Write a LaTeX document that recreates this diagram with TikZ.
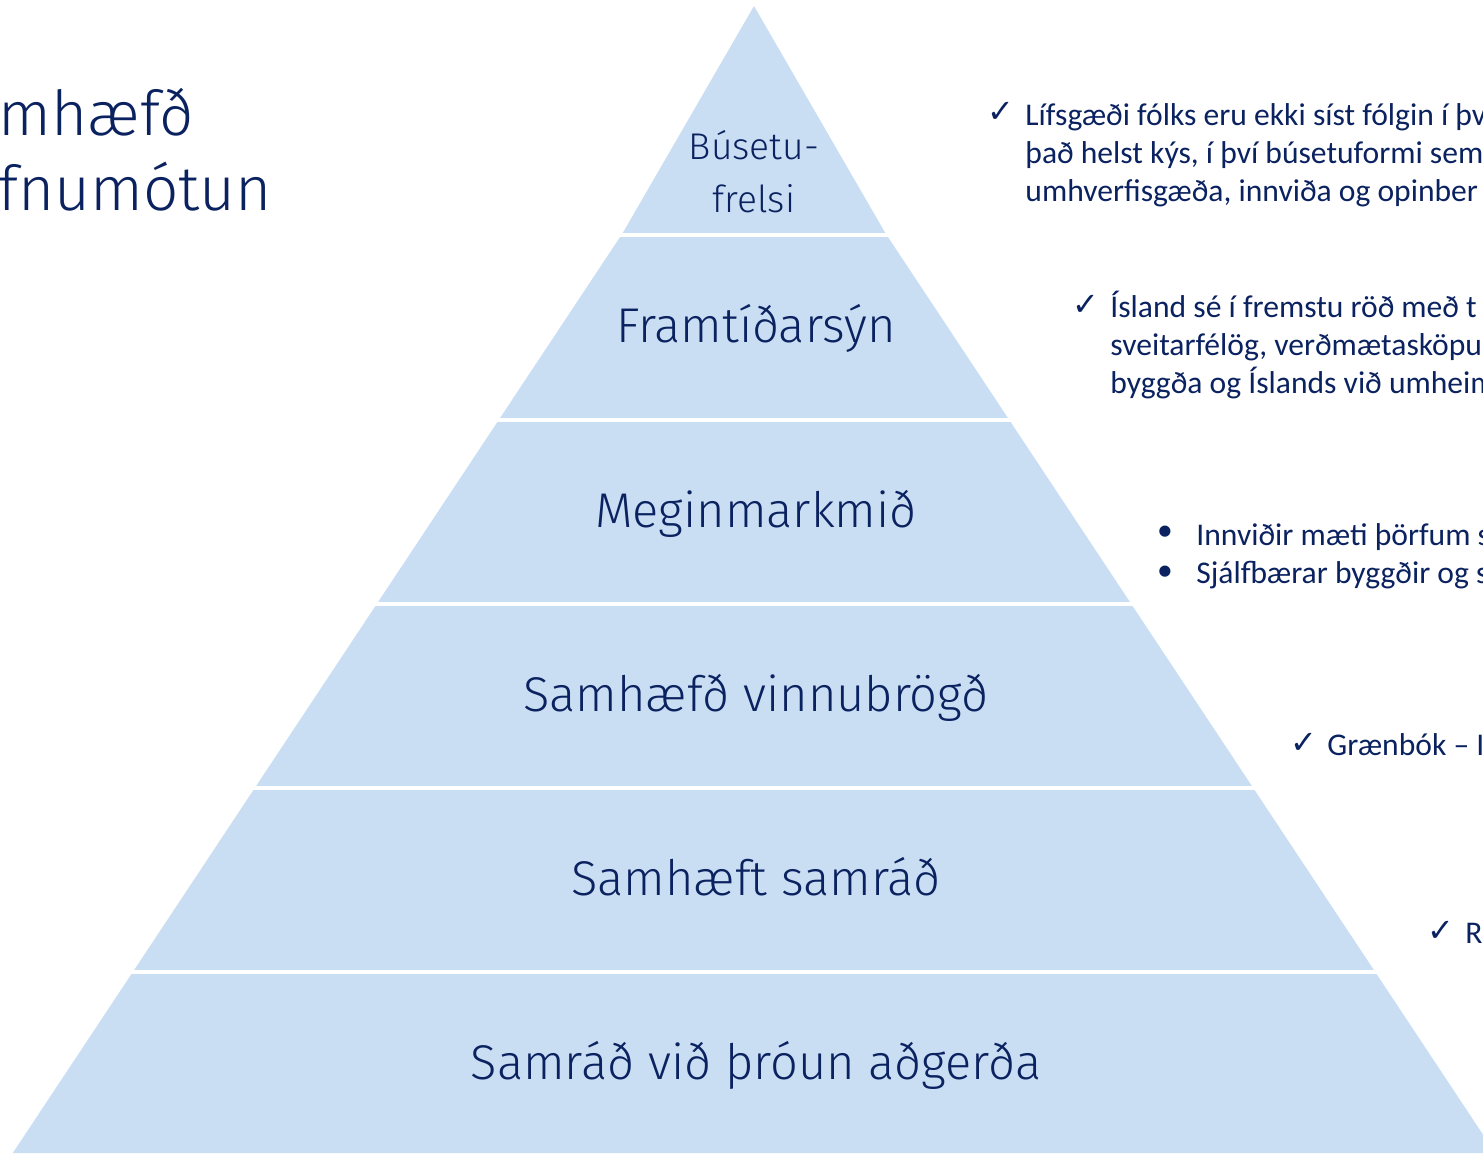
\documentclass[tikz,border=0pt]{standalone}
\usepackage{fontspec}
\setmainfont{Carlito}
\newfontfamily\pyrfont{Fira Sans Light}
\newfontfamily\symfont{DejaVu Sans}
\usetikzlibrary{positioning}
\definecolor{navy}{HTML}{0B2260}
\definecolor{pyrblue}{HTML}{C9DDF3}

\begin{document}
\begin{tikzpicture}[x=0.5pt,y=-0.5pt,
  level/.style={text=navy,font=\pyrfont\fontsize{24.4}{30}\selectfont,anchor=base,inner sep=0pt},
  title/.style={text=navy,font=\pyrfont\fontsize{31}{37.5}\selectfont,anchor=base west,inner sep=0pt},
  note/.style={text=navy,font=\fontsize{15.8}{19}\selectfont,anchor=base west,align=left,inner sep=0pt},
  tick/.style={text=navy,font=\symfont\fontsize{16}{16}\selectfont,inner sep=0pt},
  dot/.style={text=navy,font=\fontsize{15.8}{19}\selectfont,inner sep=0pt}]
\useasboundingbox (0,0) rectangle (1483,1153);
\clip (0,0) rectangle (1483,1153);
%% pyramid
\fill [pyrblue] (754,6) -- (622.7,233) -- (12.8,1153) -- (1495.2,1153) -- (885.3,233) -- cycle;
\foreach \yy in {235,420,604,788,972}
  \draw [white, line width=1.8pt] (0,\yy) -- (1483,\yy);
%% levels
\node [level,align=center,font=\pyrfont\fontsize{18.6}{26.5}\selectfont] (lv1) at (754,212) {Búsetu-\\frelsi};
\node [level] (lv2) at (756,342) {Framtíðarsýn};
\node [level] (lv3) at (756,527) {Meginmarkmið};
\node [level] (lv4) at (756,711) {Samhæfð vinnubrögð};
\node [level] (lv5) at (756,895) {Samhæft samráð};
\node [level] (lv6) at (756,1079) {Samráð við þróun aðgerða};
%% title
\node [title] (ttl1) at (-2,135) {mhæfð};
\node [title] (ttl2) at (-2,210) {fnumótun};
%% notes
\node [tick] (ck1) at (1001,112) {✓};
\node [note] (nt1) at (1025,201) {Lífsgæði fólks eru ekki síst fólgin í þv\\það helst kýs, í því búsetuformi sem\\umhverfisgæða, innviða og opinber};
\node [tick] (ck2) at (1086,305) {✓};
\node [note] (nt2) at (1110,393) {Ísland sé í fremstu röð með t\\sveitarfélög, verðmætasköpu\\byggða og Íslands við umheim};
\node [dot] (bl1) at (1165,533) {•};
\node [dot] (bl2) at (1165,573) {•};
\node [note] (nt3) at (1196,583) {Innviðir mæti þörfum s\\Sjálfbærar byggðir og s};
\node [tick] (ck4) at (1304,743) {✓};
\node [note] (nt4) at (1327,755) {Grænbók – I};
\node [tick] (ck5) at (1441,931) {✓};
\node [note] (nt5) at (1465,943) {R};
\end{tikzpicture}
\end{document}
